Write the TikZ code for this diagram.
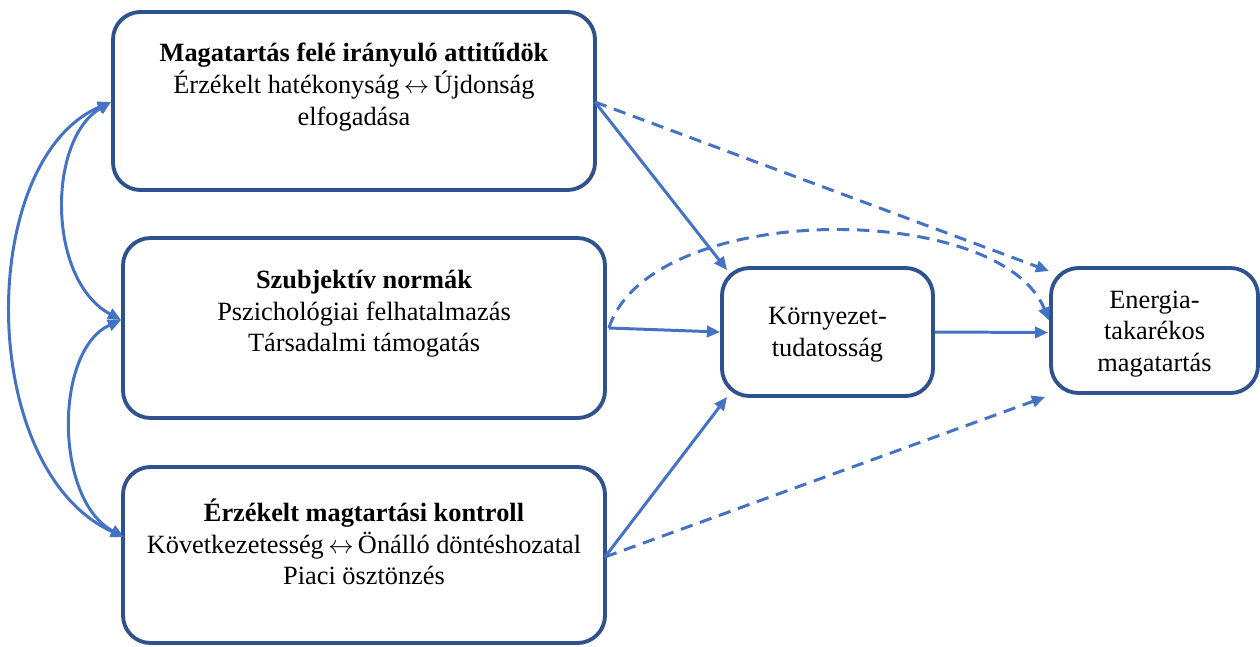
\documentclass[tikz,border=0pt]{standalone}
\usepackage{fontspec}
\setmainfont{Liberation Serif}
\usetikzlibrary{arrows.meta,calc}
\definecolor{boxblue}{HTML}{2F528F}
\definecolor{arrblue}{HTML}{4472C4}
\newcommand{\lrarr}{\,$\leftrightarrow$\,}
\begin{document}
\begin{tikzpicture}[x=0.02cm,y=-0.02cm,
  box/.style={draw=boxblue,line width=2.2pt,rounded corners=0.55cm,fill=white,inner sep=0pt},
  txt/.style={align=center,font=\fontsize{15}{18}\selectfont,inner sep=0pt},
  conn/.style={draw=arrblue,line width=1.7pt,-{Triangle[length=7.5pt,width=6.5pt]}},
  bconn/.style={draw=arrblue,line width=1.7pt,{Triangle[length=7.5pt,width=6.5pt]}-{Triangle[length=7.5pt,width=6.5pt]}},
  dconn/.style={conn,dash pattern=on 7pt off 4.5pt}]
\useasboundingbox (0,0) rectangle (1260,646);
% boxes
\node[box,minimum width=482*0.02cm,minimum height=178*0.02cm] (A) at (354,101) {};
\node[box,minimum width=482*0.02cm,minimum height=180*0.02cm] (B) at (364,328) {};
\node[box,minimum width=482*0.02cm,minimum height=176*0.02cm] (C) at (364,555) {};
\node[box,minimum width=211*0.02cm,minimum height=128*0.02cm] (K) at (827.5,332) {};
\node[box,minimum width=207*0.02cm,minimum height=125*0.02cm] (E) at (1154.5,330.5) {};
% texts
\node[txt] (At) at (354,87) {\textbf{Magatartás felé irányuló attitűdök}\\Érzékelt hatékonyság\lrarr Újdonság\\elfogadása};
\node[txt] (Bt) at (364,314) {\textbf{Szubjektív normák}\\Pszichológiai felhatalmazás\\Társadalmi támogatás};
\node[txt] (Ct) at (364,542) {\textbf{Érzékelt magtartási kontroll}\\Következetesség\lrarr Önálló döntéshozatal\\Piaci ösztönzés};
\node[txt] (Kt) at (827.5,335) {Környezet-\\tudatosság};
\node[txt] (Et) at (1154.5,334) {Energia-\\takarékos\\magatartás};
% anchor points
\coordinate (Aw) at ($(A.west)+(0,1)$);
\coordinate (Bw) at ($(B.west)+(0,-8)$);
\coordinate (Cw) at ($(C.west)+(3,-18)$);
\coordinate (Ae) at ($(A.east)+(-2,1)$);
\coordinate (Be) at ($(B.east)+(2,0)$);
\coordinate (Ce) at ($(C.east)+(-2,2)$);
\coordinate (Knw) at ($(K.north west)+(7,4)$);
\coordinate (Ksw) at ($(K.south west)+(7,-1)$);
\coordinate (Enw) at ($(E.north west)+(0,5)$);
\coordinate (Ew) at ($(E.west)+(0,-10)$);
\coordinate (Ews) at ($(E.west)+(-1,2)$);
\coordinate (Esw) at ($(E.south west)+(-4,2)$);
% left correlation curves
\draw[bconn] (Aw) .. controls (47,140) and (47,280) .. (Bw);
\draw[bconn] (Bw) .. controls (54,350) and (54,500) .. (Cw);
\draw[bconn] (Aw) .. controls (-24,160) and (-24,470) .. (Cw);
% paths
\draw[conn] (Ae) -- (Knw);
\draw[conn] (Be) -- (K.west);
\draw[conn] (Ce) -- (Ksw);
\draw[conn] (K.east) -- (Ews);
\draw[dconn] (Ae) -- (Enw);
\draw[dconn] (Be) .. controls (650,200) and (1000,200) .. (Ew);
\draw[dconn] (Ce) -- (Esw);
\end{tikzpicture}
\end{document}
